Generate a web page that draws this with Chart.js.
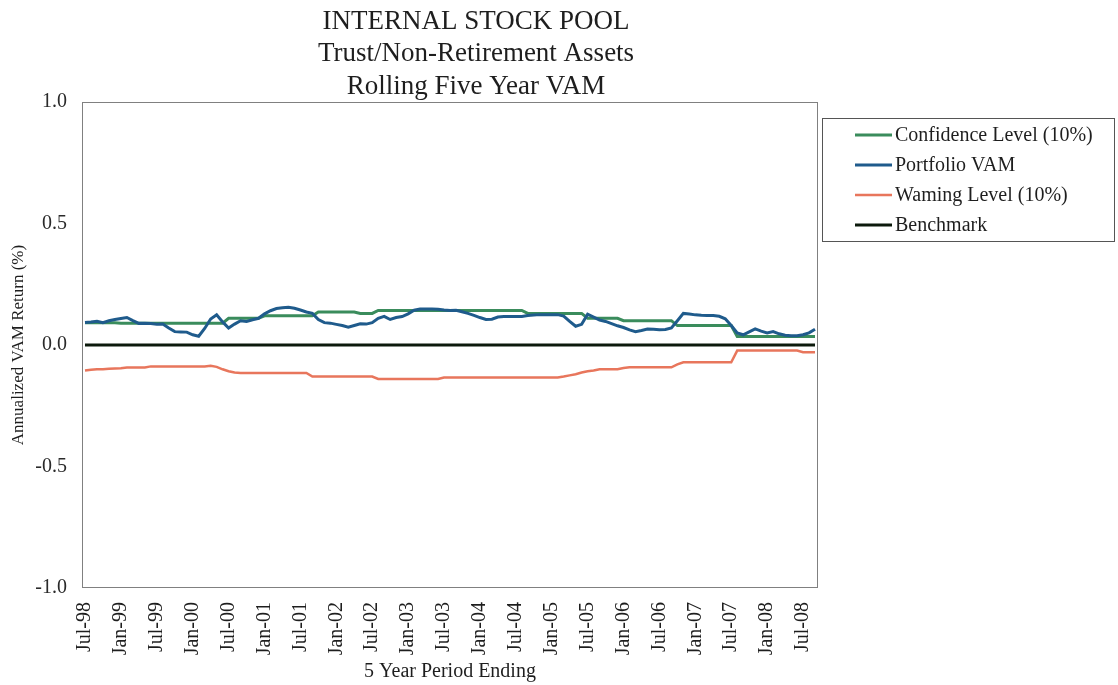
<!DOCTYPE html>
<html>
<head>
<meta charset="utf-8">
<title>Internal Stock Pool - Rolling Five Year VAM</title>
<script src="https://cdn.jsdelivr.net/npm/chart.js@4.4.1/dist/chart.umd.min.js"></script>
<style>
    html, body { margin: 0; padding: 0; background: #fff; }
    .chart-box { position: relative; width: 1118px; height: 685px; }
</style>
</head>
<body>
<div class="chart-box"><canvas id="vamChart"></canvas></div>
<script>
// month ending of each rolling 5 year period (Jul-98 .. Sep-08)
const periods = [
    'Jul-98', 'Aug-98', 'Sep-98', 'Oct-98', 'Nov-98', 'Dec-98', 'Jan-99', 'Feb-99', 'Mar-99', 'Apr-99', 'May-99', 'Jun-99',
    'Jul-99', 'Aug-99', 'Sep-99', 'Oct-99', 'Nov-99', 'Dec-99', 'Jan-00', 'Feb-00', 'Mar-00', 'Apr-00', 'May-00', 'Jun-00',
    'Jul-00', 'Aug-00', 'Sep-00', 'Oct-00', 'Nov-00', 'Dec-00', 'Jan-01', 'Feb-01', 'Mar-01', 'Apr-01', 'May-01', 'Jun-01',
    'Jul-01', 'Aug-01', 'Sep-01', 'Oct-01', 'Nov-01', 'Dec-01', 'Jan-02', 'Feb-02', 'Mar-02', 'Apr-02', 'May-02', 'Jun-02',
    'Jul-02', 'Aug-02', 'Sep-02', 'Oct-02', 'Nov-02', 'Dec-02', 'Jan-03', 'Feb-03', 'Mar-03', 'Apr-03', 'May-03', 'Jun-03',
    'Jul-03', 'Aug-03', 'Sep-03', 'Oct-03', 'Nov-03', 'Dec-03', 'Jan-04', 'Feb-04', 'Mar-04', 'Apr-04', 'May-04', 'Jun-04',
    'Jul-04', 'Aug-04', 'Sep-04', 'Oct-04', 'Nov-04', 'Dec-04', 'Jan-05', 'Feb-05', 'Mar-05', 'Apr-05', 'May-05', 'Jun-05',
    'Jul-05', 'Aug-05', 'Sep-05', 'Oct-05', 'Nov-05', 'Dec-05', 'Jan-06', 'Feb-06', 'Mar-06', 'Apr-06', 'May-06', 'Jun-06',
    'Jul-06', 'Aug-06', 'Sep-06', 'Oct-06', 'Nov-06', 'Dec-06', 'Jan-07', 'Feb-07', 'Mar-07', 'Apr-07', 'May-07', 'Jun-07',
    'Jul-07', 'Aug-07', 'Sep-07', 'Oct-07', 'Nov-07', 'Dec-07', 'Jan-08', 'Feb-08', 'Mar-08', 'Apr-08', 'May-08', 'Jun-08',
    'Jul-08', 'Aug-08', 'Sep-08'
]

const confidenceLevel = [
    0.092, 0.092, 0.092, 0.092, 0.092, 0.092, 0.090, 0.090, 0.090, 0.090, 0.090, 0.090,
    0.090, 0.090, 0.090, 0.090, 0.090, 0.090, 0.090, 0.090, 0.090, 0.090, 0.090, 0.090,
    0.110, 0.110, 0.110, 0.110, 0.110, 0.110, 0.120, 0.120, 0.120, 0.120, 0.120, 0.120,
    0.120, 0.120, 0.120, 0.136, 0.136, 0.136, 0.136, 0.136, 0.136, 0.136, 0.130, 0.130,
    0.130, 0.142, 0.142, 0.142, 0.142, 0.142, 0.142, 0.142, 0.142, 0.142, 0.142, 0.142,
    0.142, 0.142, 0.142, 0.142, 0.142, 0.142, 0.142, 0.142, 0.142, 0.142, 0.142, 0.142,
    0.142, 0.142, 0.130, 0.130, 0.130, 0.130, 0.130, 0.130, 0.130, 0.130, 0.130, 0.130,
    0.110, 0.110, 0.110, 0.110, 0.110, 0.110, 0.100, 0.100, 0.100, 0.100, 0.100, 0.100,
    0.100, 0.100, 0.100, 0.080, 0.080, 0.080, 0.080, 0.080, 0.080, 0.080, 0.080, 0.080,
    0.080, 0.035, 0.035, 0.035, 0.035, 0.035, 0.035, 0.035, 0.035, 0.035, 0.035, 0.035,
    0.035, 0.035, 0.035
]

const portfolioVam = [
    0.093, 0.095, 0.098, 0.092, 0.100, 0.105, 0.109, 0.113, 0.100, 0.089, 0.090, 0.088,
    0.085, 0.086, 0.070, 0.055, 0.054, 0.053, 0.042, 0.036, 0.068, 0.107, 0.124, 0.095,
    0.070, 0.086, 0.100, 0.097, 0.104, 0.110, 0.128, 0.141, 0.150, 0.153, 0.155, 0.151,
    0.144, 0.136, 0.130, 0.105, 0.092, 0.090, 0.085, 0.080, 0.073, 0.080, 0.087, 0.086,
    0.092, 0.110, 0.118, 0.105, 0.113, 0.117, 0.128, 0.143, 0.148, 0.148, 0.148, 0.147,
    0.144, 0.142, 0.143, 0.137, 0.130, 0.122, 0.113, 0.105, 0.106, 0.115, 0.117, 0.117,
    0.117, 0.117, 0.121, 0.123, 0.125, 0.125, 0.125, 0.125, 0.119, 0.097, 0.077, 0.085,
    0.127, 0.115, 0.103, 0.097, 0.088, 0.079, 0.072, 0.062, 0.055, 0.060, 0.066, 0.065,
    0.063, 0.064, 0.070, 0.100, 0.130, 0.128, 0.124, 0.122, 0.121, 0.121, 0.118, 0.108,
    0.080, 0.050, 0.042, 0.054, 0.066, 0.057, 0.050, 0.055, 0.046, 0.040, 0.038, 0.038,
    0.042, 0.050, 0.065
]

const warningLevel = [
    -0.105, -0.102, -0.100, -0.100, -0.098, -0.097, -0.096, -0.093, -0.093, -0.093, -0.093, -0.088,
    -0.088, -0.088, -0.088, -0.088, -0.088, -0.088, -0.088, -0.088, -0.088, -0.085, -0.090, -0.100,
    -0.108, -0.113, -0.115, -0.115, -0.115, -0.115, -0.115, -0.115, -0.115, -0.115, -0.115, -0.115,
    -0.115, -0.115, -0.130, -0.130, -0.130, -0.130, -0.130, -0.130, -0.130, -0.130, -0.130, -0.130,
    -0.130, -0.140, -0.140, -0.140, -0.140, -0.140, -0.140, -0.140, -0.140, -0.140, -0.140, -0.140,
    -0.134, -0.134, -0.134, -0.134, -0.134, -0.134, -0.134, -0.134, -0.134, -0.134, -0.134, -0.134,
    -0.134, -0.134, -0.134, -0.134, -0.134, -0.134, -0.134, -0.134, -0.130, -0.125, -0.120, -0.113,
    -0.108, -0.105, -0.100, -0.100, -0.100, -0.100, -0.095, -0.092, -0.092, -0.092, -0.092, -0.092,
    -0.092, -0.092, -0.092, -0.080, -0.071, -0.071, -0.071, -0.071, -0.071, -0.071, -0.071, -0.071,
    -0.071, -0.023, -0.023, -0.023, -0.023, -0.023, -0.023, -0.023, -0.023, -0.023, -0.023, -0.023,
    -0.030, -0.030, -0.030
]

const benchmark = [
    0, 0, 0, 0, 0, 0, 0, 0, 0, 0, 0, 0,
    0, 0, 0, 0, 0, 0, 0, 0, 0, 0, 0, 0,
    0, 0, 0, 0, 0, 0, 0, 0, 0, 0, 0, 0,
    0, 0, 0, 0, 0, 0, 0, 0, 0, 0, 0, 0,
    0, 0, 0, 0, 0, 0, 0, 0, 0, 0, 0, 0,
    0, 0, 0, 0, 0, 0, 0, 0, 0, 0, 0, 0,
    0, 0, 0, 0, 0, 0, 0, 0, 0, 0, 0, 0,
    0, 0, 0, 0, 0, 0, 0, 0, 0, 0, 0, 0,
    0, 0, 0, 0, 0, 0, 0, 0, 0, 0, 0, 0,
    0, 0, 0, 0, 0, 0, 0, 0, 0, 0, 0, 0,
    0, 0, 0
]

const titleLines = ['INTERNAL STOCK POOL', 'Trust/Non-Retirement Assets', 'Rolling Five Year VAM']
const yTicks = [-1.0, -0.5, 0.0, 0.5, 1.0]

const serif = "'Liberation Serif', 'Times New Roman', serif"

// frame round the plot, title block and the boxed legend on the right
const sheetDecor = {
    id: 'sheetDecor',
    beforeDatasetsDraw(chart) {
        const {ctx, chartArea} = chart
        ctx.save()
        ctx.strokeStyle = '#808080'
        ctx.lineWidth = 1
        ctx.strokeRect(chartArea.left + 0.5, chartArea.top + 0.5, chartArea.width - 1, chartArea.height - 1)
        ctx.restore()
    },
    afterDraw(chart) {
        const ctx = chart.ctx
        ctx.save()

        ctx.fillStyle = '#1e1e1e'
        ctx.font = `27px ${serif}`
        ctx.textAlign = 'center'
        ctx.textBaseline = 'alphabetic'
        const baselines = [29, 61, 94]
        titleLines.forEach((line, i) => ctx.fillText(line, 476, baselines[i]))

        // legend
        ctx.strokeStyle = '#555'
        ctx.lineWidth = 1
        ctx.strokeRect(822.5, 118.5, 292, 123)
        ctx.font = `20px ${serif}`
        ctx.textAlign = 'left'
        ctx.textBaseline = 'middle'
        chart.data.datasets.forEach((ds, i) => {
            const y = 135 + i * 30
            ctx.strokeStyle = ds.borderColor
            ctx.lineWidth = ds.borderWidth
            ctx.beginPath()
            ctx.moveTo(855, y)
            ctx.lineTo(892, y)
            ctx.stroke()
            ctx.fillStyle = '#1e1e1e'
            ctx.fillText(ds.label, 895, y + 1)
        })
        ctx.restore()
    }
}

const ctx = document.getElementById('vamChart').getContext('2d')
const vamChart = new Chart(ctx, {
    type: 'line',
    data: {
        labels: periods,
        datasets: [{
            label: 'Confidence Level (10%)',
            data: confidenceLevel,
            borderColor: '#3a8c5c',
            borderWidth: 3,
            order: 1
        }, {
            label: 'Portfolio VAM',
            data: portfolioVam,
            borderColor: '#1f5b8c',
            borderWidth: 3,
            order: 0
        }, {
            label: 'Waming Level (10%)',
            data: warningLevel,
            borderColor: '#e8765c',
            borderWidth: 2.5,
            order: 2
        }, {
            label: 'Benchmark',
            data: benchmark,
            borderColor: '#0c1a0c',
            borderWidth: 3,
            order: 3
        }]
    },
    options: {
        responsive: true,
        maintainAspectRatio: false,
        animation: false,
        layout: {
            padding: { top: 102, right: 300, bottom: 0, left: 0 }
        },
        elements: {
            point: { radius: 0 },
            line: { tension: 0, fill: false }
        },
        scales: {
            x: {
                offset: true,
                afterFit: (scale) => { scale.height = 97 },
                grid: { display: false, drawTicks: false },
                border: { display: false },
                ticks: {
                    autoSkip: false,
                    minRotation: 90,
                    maxRotation: 90,
                    padding: 14,
                    color: '#1e1e1e',
                    font: { family: serif, size: 20 },
                    callback: function(value, index) {
                        return index % 6 === 0 ? this.getLabelForValue(value) : ''
                    }
                },
                title: {
                    display: true,
                    text: '5 Year Period Ending',
                    color: '#1e1e1e',
                    font: { family: serif, size: 20 },
                    padding: { top: 0, bottom: 1 }
                }
            },
            y: {
                min: -1,
                max: 1,
                afterFit: (scale) => { scale.width = 82 },
                afterBuildTicks: (scale) => { scale.ticks = yTicks.map(v => ({ value: v })) },
                grid: { display: false, drawTicks: false },
                border: { display: false },
                ticks: {
                    padding: 15,
                    color: '#2a2a2a',
                    font: { family: serif, size: 20 },
                    callback: (v) => Number(v).toFixed(1)
                },
                title: {
                    display: true,
                    text: 'Annualized VAM Return (%)',
                    color: '#1e1e1e',
                    font: { family: serif, size: 17 },
                    padding: { top: 8, bottom: 0 }
                }
            }
        },
        plugins: {
            legend: { display: false },
            title: { display: false },
            tooltip: { enabled: false }
        }
    },
    plugins: [sheetDecor]
})
</script>
</body>
</html>
